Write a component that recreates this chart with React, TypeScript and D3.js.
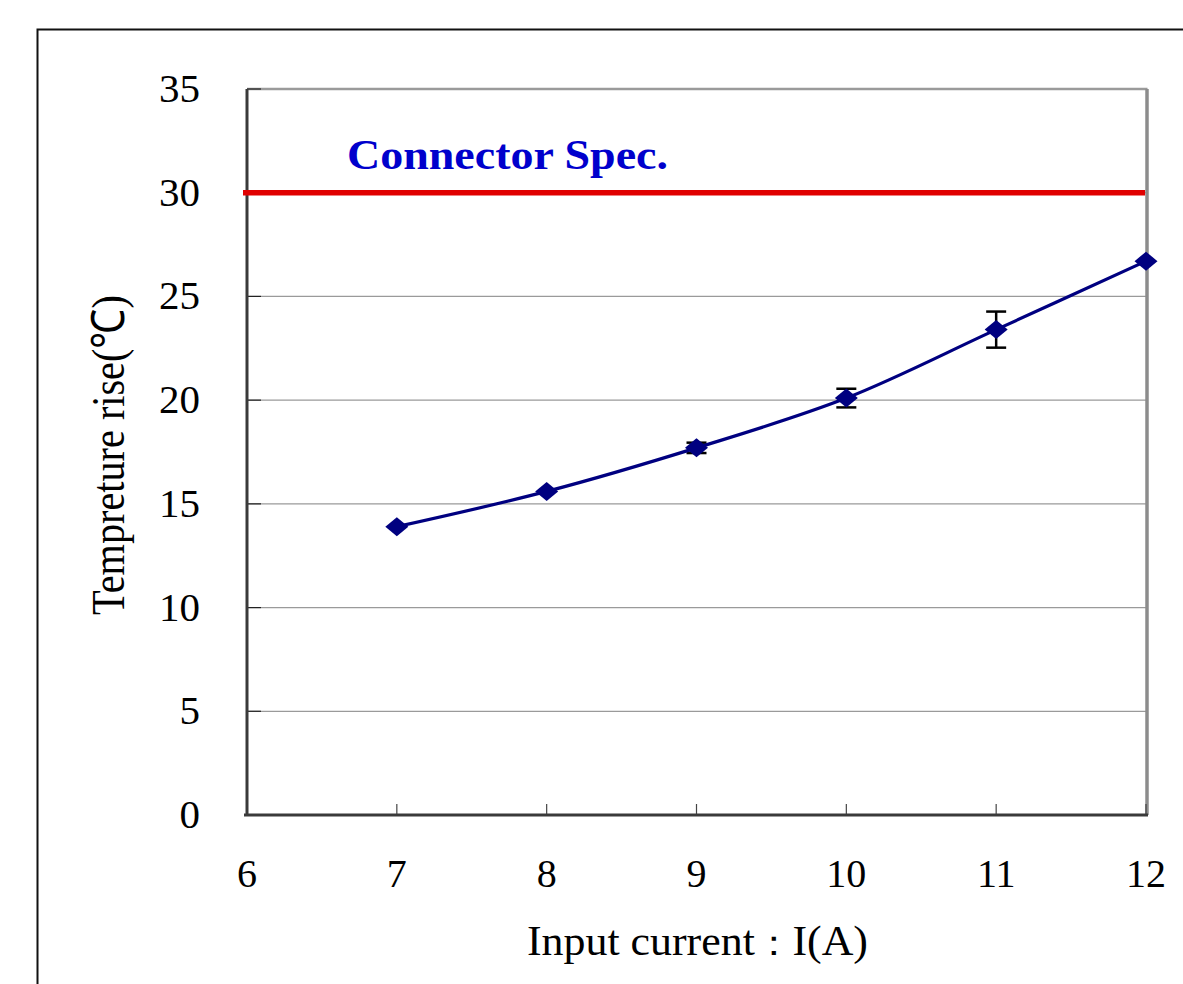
import React from "react";
import * as d3 from "d3";

const currents = [7, 8, 9, 10, 11, 12];
const tempRise = [13.9, 15.6, 17.7, 20.1, 23.4, 26.7];
const errors = [0, 0, 0.25, 0.45, 0.87, 0];
const xTicks = [6, 7, 8, 9, 10, 11, 12];
const yTicks = [0, 5, 10, 15, 20, 25, 30, 35];
const specValue = 30;
const specLabel = "Connector Spec.";
const xTitleA = "Input current";
const xTitleColon = "\uFF1A";
const xTitleB = "I(A)";
const yTitle = "Tempreture rise(\u2103)";

const W = 1183;
const H = 984;
const m = { left: 247, right: 1146, top: 89, bottom: 815 };
const serif = "'Liberation Serif', 'Times New Roman', serif";

export default function App() {
  const x = d3.scaleLinear().domain([6, 12]).range([m.left, m.right]);
  const y = d3.scaleLinear().domain([0, 35]).range([m.bottom, m.top]);
  const pts = currents.map((c, i) => [x(c), y(tempRise[i])] as [number, number]);
  const line = d3.line().curve(d3.curveCatmullRom.alpha(0.5))(pts) || "";
  const hw = 11.5, hh = 9.5;
  return (
    <svg width={W} height={H} style={{ position: "absolute", left: 0, top: 0, background: "#fff" }}>
      <rect x={0} y={0} width={W} height={H} fill="#fff" />
      {/* outer frame */}
      <path d={`M37.5,${H + 5} V29.5 H${W + 5}`} fill="none" stroke="#111" strokeWidth={2} />
      {/* grid lines */}
      {yTicks.filter((t) => t > 0 && t < 35).map((t) => (
        <line key={t} x1={m.left} x2={m.right} y1={y(t)} y2={y(t)} stroke="#9a9a9a" strokeWidth={1.2} />
      ))}
      {/* plot top and right border */}
      <line x1={m.left} x2={m.right + 1.5} y1={m.top} y2={m.top} stroke="#9a9a9a" strokeWidth={2.5} />
      <line x1={m.right + 1} x2={m.right + 1} y1={m.top} y2={m.bottom} stroke="#8c8c8c" strokeWidth={3.5} />
      {/* y ticks inside */}
      {yTicks.map((t) => (
        <line key={t} x1={m.left} x2={m.left + 14} y1={y(t)} y2={y(t)} stroke="#222" strokeWidth={1.2} />
      ))}
      {/* x ticks inside */}
      {xTicks.map((t) => (
        <line key={t} x1={x(t)} x2={x(t)} y1={m.bottom} y2={m.bottom - 11} stroke="#444" strokeWidth={1.2} />
      ))}
      {/* axes */}
      <line x1={m.left} x2={m.left} y1={m.top} y2={m.bottom + 1} stroke="#3a3a3a" strokeWidth={3} />
      <line x1={m.left - 3} x2={m.right + 2} y1={m.bottom} y2={m.bottom} stroke="#3a3a3a" strokeWidth={3} />
      {/* spec line */}
      <line x1={m.left - 4} x2={m.right - 1} y1={y(specValue)} y2={y(specValue)} stroke="#e00000" strokeWidth={5.5} />
      <text x={347} y={169} fontFamily={serif} fontWeight="bold" fontSize={42} fill="#0000cc" textLength={321} lengthAdjust="spacingAndGlyphs">{specLabel}</text>
      {/* error bars */}
      {currents.map((c, i) => errors[i] > 0 ? (
        <g key={c} stroke="#000" strokeWidth={2.5}>
          <line x1={x(c)} x2={x(c)} y1={y(tempRise[i] - errors[i])} y2={y(tempRise[i] + errors[i])} />
          <line x1={x(c) - 10} x2={x(c) + 10} y1={y(tempRise[i] - errors[i])} y2={y(tempRise[i] - errors[i])} />
          <line x1={x(c) - 10} x2={x(c) + 10} y1={y(tempRise[i] + errors[i])} y2={y(tempRise[i] + errors[i])} />
        </g>
      ) : null)}
      {/* series line */}
      <path d={line} fill="none" stroke="#000080" strokeWidth={3.2} />
      {pts.map(([px, py], i) => (
        <path key={i} d={`M${px},${py - hh} L${px + hw},${py} L${px},${py + hh} L${px - hw},${py} Z`} fill="#000080" />
      ))}
      {/* y tick labels */}
      {yTicks.map((t) => (
        <text key={t} x={200} y={y(t) + 13} textAnchor="end" fontFamily={serif} fontSize={41} fill="#000">{t}</text>
      ))}
      {/* x tick labels */}
      {xTicks.map((t) => (
        <text key={t} x={x(t)} y={887} textAnchor="middle" fontFamily={serif} fontSize={40} fill="#000">{t}</text>
      ))}
      <text x={527} y={955} fontFamily={serif} fontSize={42} fill="#000" textLength={341} lengthAdjust="spacingAndGlyphs">
        {xTitleA}<tspan fontSize={36}>{xTitleColon}</tspan>{xTitleB}
      </text>
      <text transform={`translate(124,455) rotate(-90)`} textAnchor="middle" fontFamily={serif} fontSize={46} fill="#000" textLength={320} lengthAdjust="spacingAndGlyphs">{yTitle}</text>
    </svg>
  );
}
